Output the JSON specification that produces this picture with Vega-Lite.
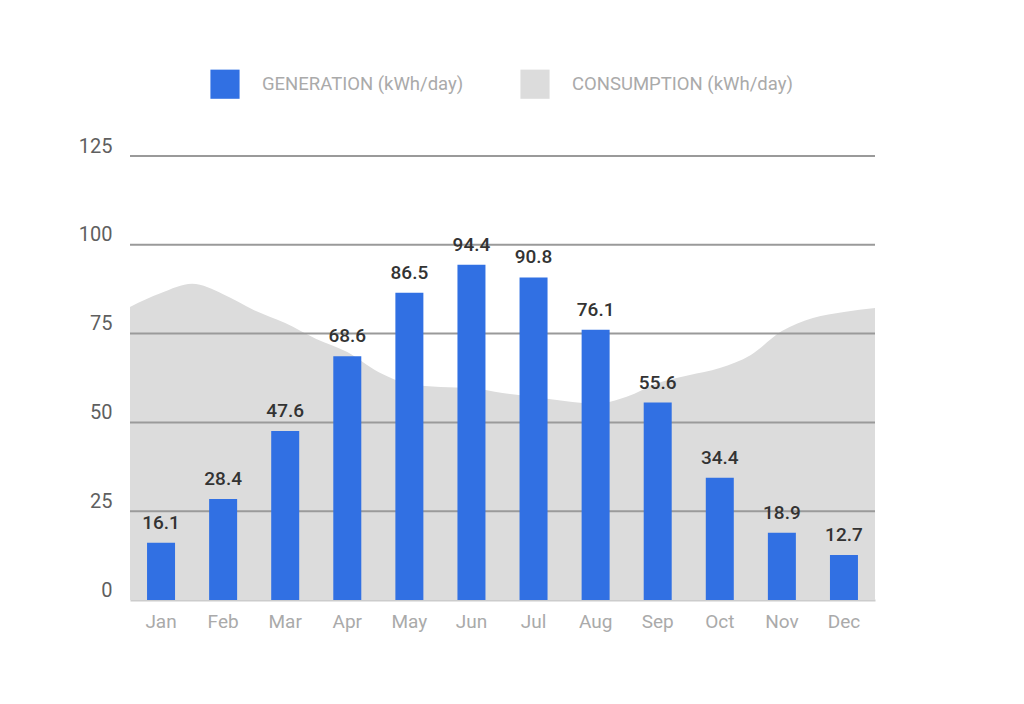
{
  "$schema": "https://vega.github.io/schema/vega-lite/v6.json",
  "width": 745,
  "height": 444,
  "autosize": "none",
  "padding": {"left": 130, "top": 156, "right": 149, "bottom": 104},
  "background": "white",
  "datasets": {
    "gen": [
      {"month": "Jan", "kwh": 16.1},
      {"month": "Feb", "kwh": 28.4},
      {"month": "Mar", "kwh": 47.6},
      {"month": "Apr", "kwh": 68.6},
      {"month": "May", "kwh": 86.5},
      {"month": "Jun", "kwh": 94.4},
      {"month": "Jul", "kwh": 90.8},
      {"month": "Aug", "kwh": 76.1},
      {"month": "Sep", "kwh": 55.6},
      {"month": "Oct", "kwh": 34.4},
      {"month": "Nov", "kwh": 18.9},
      {"month": "Dec", "kwh": 12.7}
    ],
    "cons": [
      {"pos": 0.5, "kwh": 82.5},
      {"pos": 1, "kwh": 86.4},
      {"pos": 1.5, "kwh": 89.0},
      {"pos": 2, "kwh": 86.1},
      {"pos": 2.5, "kwh": 81.6},
      {"pos": 3, "kwh": 78.0},
      {"pos": 3.5, "kwh": 73.5},
      {"pos": 4, "kwh": 69.8},
      {"pos": 4.5, "kwh": 64.2},
      {"pos": 5, "kwh": 60.8},
      {"pos": 5.5, "kwh": 60.0},
      {"pos": 6, "kwh": 59.7},
      {"pos": 6.5, "kwh": 58.3},
      {"pos": 7, "kwh": 57.2},
      {"pos": 7.5, "kwh": 56.0},
      {"pos": 8, "kwh": 55.2},
      {"pos": 8.5, "kwh": 57.2},
      {"pos": 9, "kwh": 61.1},
      {"pos": 9.5, "kwh": 63.3},
      {"pos": 10, "kwh": 65.3},
      {"pos": 10.5, "kwh": 69.0},
      {"pos": 11, "kwh": 75.7},
      {"pos": 11.5, "kwh": 79.4},
      {"pos": 12, "kwh": 81.1},
      {"pos": 12.5, "kwh": 82.2}
    ],
    "grid": [{"v": 25}, {"v": 50}, {"v": 75}, {"v": 100}, {"v": 125}]
  },
  "layer": [
    {
      "data": {"name": "cons"},
      "mark": {"type": "area", "interpolate": "monotone", "color": "#e2e2e2"},
      "encoding": {
        "x": {"field": "pos", "type": "quantitative", "scale": {"domain": [0.5, 12.5], "nice": false, "zero": false}, "axis": null},
        "y": {"field": "kwh", "type": "quantitative"},
        "color": {"datum": "CONSUMPTION (kWh/day)"}
      }
    },
    {
      "data": {"name": "grid"},
      "mark": {"type": "rule", "color": "#9a9a9a", "strokeWidth": 2},
      "encoding": {
        "y": {"field": "v", "type": "quantitative"}
      }
    },
    {
      "data": {"name": "gen"},
      "encoding": {
        "x": {
          "field": "month", "type": "nominal", "sort": null,
          "scale": {"paddingInner": 0.5, "paddingOuter": 0.25},
          "axis": {"title": null, "labelAngle": 0, "ticks": false, "domainColor": "#cccccc", "domainWidth": 2, "labelPadding": 12}
        },
        "y": {
          "field": "kwh", "type": "quantitative",
          "scale": {"domain": [0, 125], "nice": false},
          "axis": {"title": null, "values": [0, 25, 50, 75, 100, 125], "grid": false, "domain": false, "ticks": false, "labelPadding": 18, "labelBaseline": "bottom", "labelColor": "#5f5f5f", "labelFontSize": 20}
        }
      },
      "layer": [
        {
          "mark": {"type": "bar", "size": 28},
          "encoding": {
            "color": {
              "datum": "GENERATION (kWh/day)",
              "scale": {"domain": ["GENERATION (kWh/day)", "CONSUMPTION (kWh/day)"], "range": ["#3170e3", "#dcdcdc"]}
            }
          }
        },
        {
          "mark": {"type": "text", "baseline": "bottom", "dy": -10, "fontSize": 19, "fontWeight": 500, "color": "#333333", "font": "Roboto"},
          "encoding": {
            "text": {"field": "kwh", "type": "quantitative", "format": ".1f"}
          }
        }
      ]
    }
  ],
  "resolve": {"scale": {"x": "independent"}},
  "config": {
    "view": {"stroke": null},
    "font": "Roboto",
    "axis": {"labelFont": "Roboto", "labelFontSize": 19, "labelColor": "#aaaaaa"},
    "legend": {
      "orient": "none",
      "legendX": 80,
      "legendY": -87,
      "direction": "horizontal",
      "title": null,
      "symbolType": "square",
      "symbolSize": 850,
      "symbolStrokeWidth": 0,
      "symbolOpacity": 1,
      "labelFont": "Roboto",
      "labelFontSize": 18.5,
      "labelColor": "#aaaaaa",
      "labelLimit": 300,
      "labelOffset": 22,
      "columnPadding": 56
    }
  }
}
